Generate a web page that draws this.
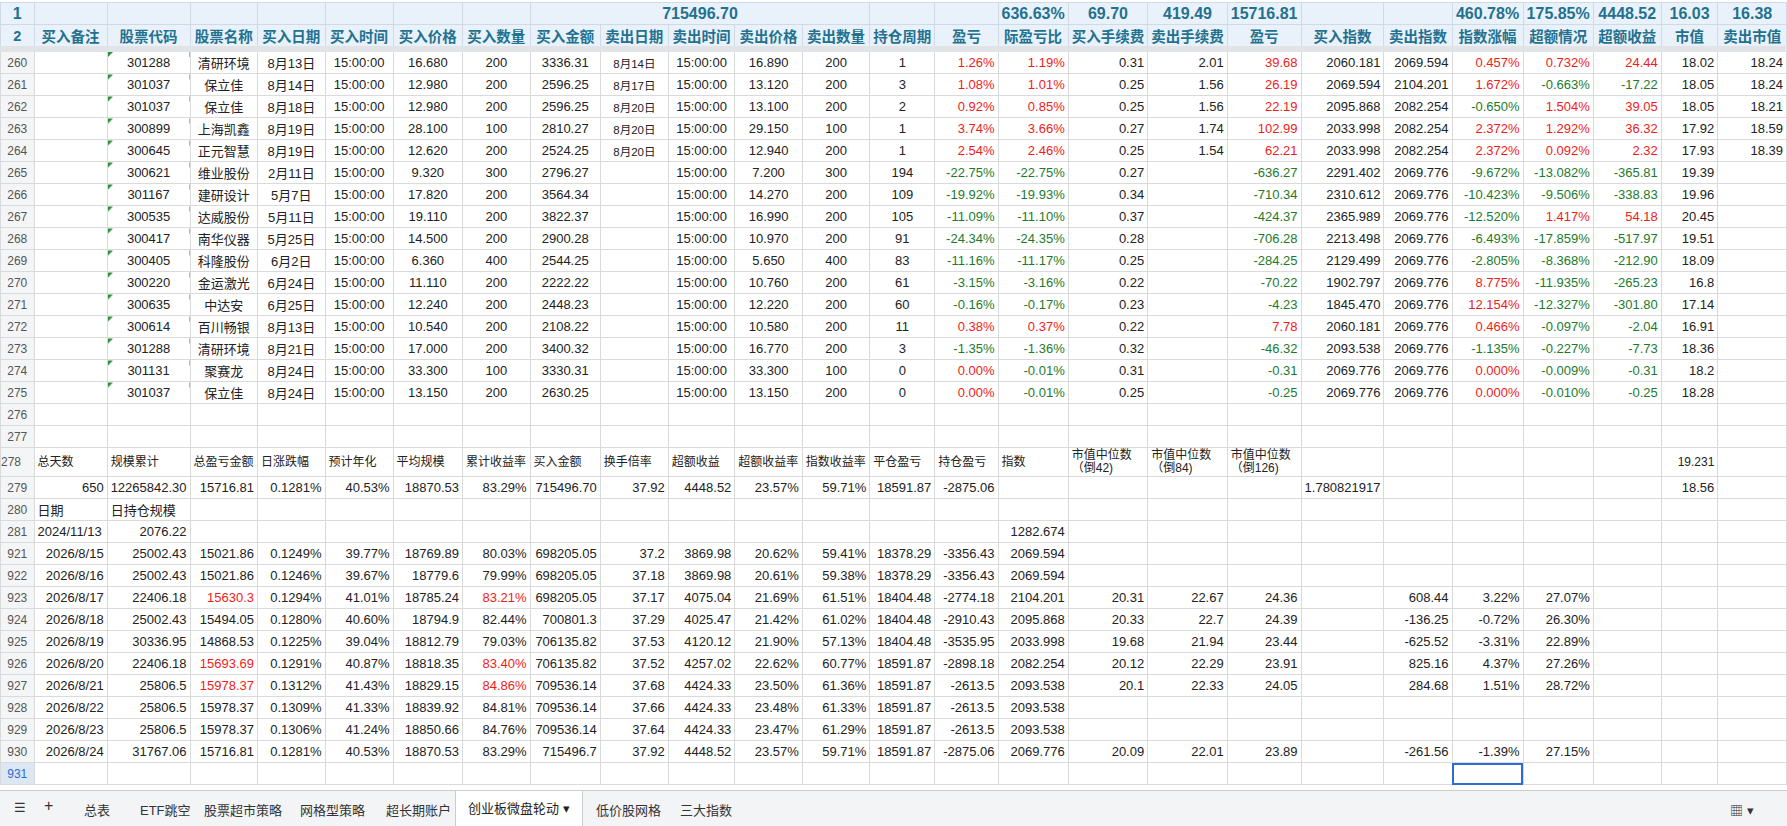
<!DOCTYPE html>
<html><head><meta charset="utf-8">
<script src="https://cdn.jsdelivr.net/npm/chart.js@4"></script>
<style>
body{margin:0;width:1787px;height:826px;overflow:hidden;background:#fff;font-family:Arial,"Noto Sans CJK SC",sans-serif;font-size:13px;color:#222}
table{border-collapse:collapse;table-layout:fixed;position:absolute;left:0;top:2px}
td{border:1px solid #dadada;height:21px;padding:0 3px;white-space:nowrap;overflow:hidden;text-align:right}
td.rn{background:#f4f5f7;color:#555;text-align:center;font-size:12px;padding:0}
tr.h1 td{background:#e9f1fb;color:#23718f;font-weight:bold;font-size:16px;text-align:center;height:21px;border-color:#d0dae6}
tr.h2 td{background:#e9f1fb;color:#23718f;font-weight:bold;font-size:14.5px;text-align:center;height:19px;border-color:#d0dae6;border-bottom:6px solid #e1e3e6}
td.c{text-align:center}td.l{text-align:left}
td.r{color:#f01b1b}td.g{color:#1d7a2c}
td.code{background:linear-gradient(135deg,#2f8f3f 4px,transparent 4px)}
td.small{font-size:11.5px}
tr.lab td{font-size:12px;text-align:left;height:28px;line-height:13px}
td.sel{outline:2px solid #2d6bd6;outline-offset:-2px}
#tabs{position:absolute;left:0;top:790px;width:1787px;height:36px;background:#f3f4f6;border-top:1px solid #ccc;font-size:13px;color:#333}
#tabs span{position:absolute;top:9px}
#tabs .act{top:0;height:35px;line-height:35px;background:#fff;padding:0 12px;border-left:1px solid #ccc;border-right:1px solid #ccc;color:#222}
</style></head><body>
<table id="t"></table>
<div id="tabs"></div>
<script>
const colWidths = [46,75,81,68,70,71,74,68,72,71,68,68,68,51,68,68,68,68,74,68,71,72,68,71,66,72];
const topTotals = {14:"636.63%",15:"69.70",16:"419.49",17:"15716.81",20:"460.78%",21:"175.85%",22:"4448.52",23:"16.03",24:"16.38"};
const buyTotal = "715496.70";
const headers = ["买入备注","股票代码","股票名称","买入日期","买入时间","买入价格","买入数量","买入金额","卖出日期","卖出时间","卖出价格","卖出数量","持仓周期","盈亏","际盈亏比","买入手续费","卖出手续费","盈亏","买入指数","卖出指数","指数涨幅","超额情况","超额收益","市值","卖出市值"];
const tradeRowNums = [260,261,262,263,264,265,266,267,268,269,270,271,272,273,274,275];
const trades = [
 ["301288","清研环境","8月13日","16.680","200","3336.31","8月14日","16.890","200","1","1.26%","1.19%","0.31","2.01","39.68","2060.181","2069.594","0.457%","0.732%","24.44","18.02","18.24"],
 ["301037","保立佳","8月14日","12.980","200","2596.25","8月17日","13.120","200","3","1.08%","1.01%","0.25","1.56","26.19","2069.594","2104.201","1.672%","-0.663%","-17.22","18.05","18.24"],
 ["301037","保立佳","8月18日","12.980","200","2596.25","8月20日","13.100","200","2","0.92%","0.85%","0.25","1.56","22.19","2095.868","2082.254","-0.650%","1.504%","39.05","18.05","18.21"],
 ["300899","上海凯鑫","8月19日","28.100","100","2810.27","8月20日","29.150","100","1","3.74%","3.66%","0.27","1.74","102.99","2033.998","2082.254","2.372%","1.292%","36.32","17.92","18.59"],
 ["300645","正元智慧","8月19日","12.620","200","2524.25","8月20日","12.940","200","1","2.54%","2.46%","0.25","1.54","62.21","2033.998","2082.254","2.372%","0.092%","2.32","17.93","18.39"],
 ["300621","维业股份","2月11日","9.320","300","2796.27","","7.200","300","194","-22.75%","-22.75%","0.27","","-636.27","2291.402","2069.776","-9.672%","-13.082%","-365.81","19.39",""],
 ["301167","建研设计","5月7日","17.820","200","3564.34","","14.270","200","109","-19.92%","-19.93%","0.34","","-710.34","2310.612","2069.776","-10.423%","-9.506%","-338.83","19.96",""],
 ["300535","达威股份","5月11日","19.110","200","3822.37","","16.990","200","105","-11.09%","-11.10%","0.37","","-424.37","2365.989","2069.776","-12.520%","1.417%","54.18","20.45",""],
 ["300417","南华仪器","5月25日","14.500","200","2900.28","","10.970","200","91","-24.34%","-24.35%","0.28","","-706.28","2213.498","2069.776","-6.493%","-17.859%","-517.97","19.51",""],
 ["300405","科隆股份","6月2日","6.360","400","2544.25","","5.650","400","83","-11.16%","-11.17%","0.25","","-284.25","2129.499","2069.776","-2.805%","-8.368%","-212.90","18.09",""],
 ["300220","金运激光","6月24日","11.110","200","2222.22","","10.760","200","61","-3.15%","-3.16%","0.22","","-70.22","1902.797","2069.776","8.775%","-11.935%","-265.23","16.8",""],
 ["300635","中达安","6月25日","12.240","200","2448.23","","12.220","200","60","-0.16%","-0.17%","0.23","","-4.23","1845.470","2069.776","12.154%","-12.327%","-301.80","17.14",""],
 ["300614","百川畅银","8月13日","10.540","200","2108.22","","10.580","200","11","0.38%","0.37%","0.22","","7.78","2060.181","2069.776","0.466%","-0.097%","-2.04","16.91",""],
 ["301288","清研环境","8月21日","17.000","200","3400.32","","16.770","200","3","-1.35%","-1.36%","0.32","","-46.32","2093.538","2069.776","-1.135%","-0.227%","-7.73","18.36",""],
 ["301131","聚赛龙","8月24日","33.300","100","3330.31","","33.300","100","0","0.00%","-0.01%","0.31","","-0.31","2069.776","2069.776","0.000%","-0.009%","-0.31","18.2",""],
 ["301037","保立佳","8月24日","13.150","200","2630.25","","13.150","200","0","0.00%","-0.01%","0.25","","-0.25","2069.776","2069.776","0.000%","-0.010%","-0.25","18.28",""]
];
const summaryLabels = ["总天数","规模累计","总盈亏金额","日涨跌幅","预计年化","平均规模","累计收益率","买入金额","换手倍率","超额收益","超额收益率","指数收益率","平仓盈亏","持仓盈亏","指数","市值中位数<br>（倒42)","市值中位数<br>（倒84)","市值中位数<br>（倒126)"];
const summaryValues = ["650","12265842.30","15716.81","0.1281%","40.53%","18870.53","83.29%","715496.70","37.92","4448.52","23.57%","59.71%","18591.87","-2875.06"];
const dailyRowNums = [921,922,923,924,925,926,927,928,929,930];
const daily = [
 ["2026/8/15","25002.43","15021.86","0.1249%","39.77%","18769.89","80.03%","698205.05","37.2","3869.98","20.62%","59.41%","18378.29","-3356.43","2069.594"],
 ["2026/8/16","25002.43","15021.86","0.1246%","39.67%","18779.6","79.99%","698205.05","37.18","3869.98","20.61%","59.38%","18378.29","-3356.43","2069.594"],
 ["2026/8/17","22406.18","15630.3","0.1294%","41.01%","18785.24","83.21%","698205.05","37.17","4075.04","21.69%","61.51%","18404.48","-2774.18","2104.201","20.31","22.67","24.36","","608.44","3.22%","27.07%"],
 ["2026/8/18","25002.43","15494.05","0.1280%","40.60%","18794.9","82.44%","700801.3","37.29","4025.47","21.42%","61.02%","18404.48","-2910.43","2095.868","20.33","22.7","24.39","","-136.25","-0.72%","26.30%"],
 ["2026/8/19","30336.95","14868.53","0.1225%","39.04%","18812.79","79.03%","706135.82","37.53","4120.12","21.90%","57.13%","18404.48","-3535.95","2033.998","19.68","21.94","23.44","","-625.52","-3.31%","22.89%"],
 ["2026/8/20","22406.18","15693.69","0.1291%","40.87%","18818.35","83.40%","706135.82","37.52","4257.02","22.62%","60.77%","18591.87","-2898.18","2082.254","20.12","22.29","23.91","","825.16","4.37%","27.26%"],
 ["2026/8/21","25806.5","15978.37","0.1312%","41.43%","18829.15","84.86%","709536.14","37.68","4424.33","23.50%","61.36%","18591.87","-2613.5","2093.538","20.1","22.33","24.05","","284.68","1.51%","28.72%"],
 ["2026/8/22","25806.5","15978.37","0.1309%","41.33%","18839.92","84.81%","709536.14","37.66","4424.33","23.48%","61.33%","18591.87","-2613.5","2093.538"],
 ["2026/8/23","25806.5","15978.37","0.1306%","41.24%","18850.66","84.76%","709536.14","37.64","4424.33","23.47%","61.29%","18591.87","-2613.5","2093.538"],
 ["2026/8/24","31767.06","15716.81","0.1281%","40.53%","18870.53","83.29%","715496.7","37.92","4448.52","23.57%","59.71%","18591.87","-2875.06","2069.776","20.09","22.01","23.89","","-261.56","-1.39%","27.15%"]
];
const redDailyRows = [923,926,927];
const tabNames = ["总表","ETF跳空","股票超市策略","网格型策略","超长期账户","创业板微盘轮动 ▾","低价股网格","三大指数"];
const tabLefts = [84,140,204,300,386,455,596,680];

const t = document.getElementById("t");
let html = "<colgroup>" + colWidths.map(w => `<col style="width:${w}px">`).join("") + "</colgroup>";
function row(num, cells, cls, trCls) {
  let s = `<tr class="${trCls || ""}"><td class="rn">${num}</td>`;
  for (let i = 0; i < 25; i++) s += `<td class="${(cls && cls[i]) || ""}">${cells[i] || ""}</td>`;
  return s + "</tr>";
}
// row 1: totals, buy total merged over several columns
let h1 = '<tr class="h1"><td class="rn">1</td>';
for (let i = 0; i < 25; i++) {
  if (i == 7) { h1 += `<td colspan="5">${buyTotal}</td>`; i = 11; continue; }
  h1 += `<td>${topTotals[i] || ""}</td>`;
}
html += h1 + "</tr>";
html += row(2, headers, null, "h2");
trades.forEach((r, k) => {
  let cells = ["", r[0], r[1], r[2], "15:00:00", r[3], r[4], r[5], r[6], "15:00:00", r[7], r[8], r[9], r[10], r[11], r[12], r[13], r[14], r[15], r[16], r[17], r[18], r[19], r[20], r[21]];
  let cls = [];
  for (let i = 1; i <= 12; i++) cls[i] = "c";
  cls[1] = "c code"; cls[8] = "c small";
  [13, 14, 17, 20, 21, 22].forEach(i => cls[i] = cells[i].startsWith("-") ? "g" : "r");
  html += row(tradeRowNums[k], cells, cls);
});
html += row(276, []) + row(277, []);
let lab = summaryLabels.slice();
lab[23] = "19.231";
let labCls = []; labCls[15] = "c"; labCls[16] = "c"; labCls[17] = "c"; labCls[23] = "ra";
html += row(278, lab, labCls, "lab").replace('<td class="ra">', '<td style="text-align:right">');
let sv = summaryValues.slice(); sv[18] = "1.780821917"; sv[23] = "18.56";
html += row(279, sv);
html += row(280, ["日期", "日持仓规模"], ["l", "l"]);
let r281 = ["2024/11/13", "2076.22"]; r281[14] = "1282.674";
html += row(281, r281, ["l"]);
daily.forEach((r, k) => {
  let cls = [];
  if (redDailyRows.includes(dailyRowNums[k])) { cls[2] = "r"; cls[6] = "r"; }
  html += row(dailyRowNums[k], r, cls);
});
let selCls = []; selCls[20] = "sel";
html += row(931, [], selCls).replace('<td class="rn">931', '<td class="rn" style="background:#dde6f3;color:#2d6bd6">931');
t.innerHTML = html;

const tabs = document.getElementById("tabs");
let th = '<span style="left:14px">☰</span><span style="left:44px;font-size:16px;top:6px">+</span>';
tabNames.forEach((n, i) => {
  if (n.startsWith("创业板")) th += `<span class="act" style="left:${tabLefts[i]}px">${n}</span>`;
  else th += `<span style="left:${tabLefts[i]}px">${n}</span>`;
});
th += '<span style="left:1730px">▦ ▾</span>';
tabs.innerHTML = th;
</script>
</body></html>
